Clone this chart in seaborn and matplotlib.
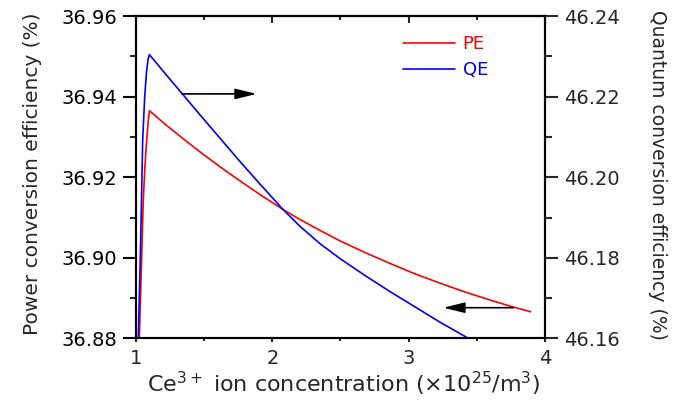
import matplotlib
matplotlib.use("Agg")
import matplotlib.pyplot as plt
from matplotlib.ticker import MultipleLocator, FormatStrFormatter
import seaborn as sns
import pandas as pd

# ---- data ----
pe_x = [1.0235, 1.0389, 1.0535, 1.0660, 1.0785, 1.0902, 1.0990, 1.2127, 1.3227,
        1.4694, 1.6162, 1.7628, 1.9096, 2.0783, 2.2030, 2.3497, 2.4964, 2.6797,
        2.8631, 3.0465, 3.2299, 3.4133, 3.5966, 3.7433, 3.8937]
pe_y = [36.8791, 36.8970, 36.9143, 36.9230, 36.9292, 36.9342, 36.9365, 36.9332,
        36.9302, 36.9263, 36.9226, 36.9191, 36.9157, 36.9120, 36.9095, 36.9068,
        36.9042, 36.9013, 36.8986, 36.8960, 36.8937, 36.8915, 36.8895, 36.8880,
        36.8866]

qe_x = [1.0154, 1.0257, 1.0345, 1.0418, 1.0491, 1.0638, 1.0770, 1.0880, 1.0976,
        1.2127, 1.3227, 1.4694, 1.6162, 1.7628, 1.9096, 2.0783, 2.2030, 2.3497,
        2.4964, 2.6797, 2.8631, 3.0465, 3.2299, 3.4375, 3.5966]
qe_y = [46.1583, 46.1720, 46.1844, 46.1968, 46.2093, 46.2200, 46.2261, 46.2291,
        46.2305, 46.2258, 46.2214, 46.2155, 46.2097, 46.2039, 46.1983, 46.1920,
        46.1878, 46.1835, 46.1798, 46.1756, 46.1716, 46.1678, 46.1640, 46.1600,
        46.1569]

series_names = ["PE", "QE"]
series_colors = ["#ff0000", "#0000ff"]
x_ticks = [1, 2, 3, 4]
left_ticks = [36.88, 36.90, 36.92, 36.94, 36.96]
right_ticks = [46.16, 46.18, 46.20, 46.22, 46.24]

xlabel = r"Ce$^{3+}$ ion concentration ($\times$10$^{25}$/m$^{3}$)"
ylabel_left = "Power conversion efficiency (%)"
ylabel_right = "Quantum conversion efficiency (%)"

# arrows: (x_start, x_end, y) in left-axis data units
arrow_right = (1.335, 1.885, 36.9407)
arrow_left = (3.768, 3.254, 36.8876)

pe_df = pd.DataFrame({"x": pe_x, "y": pe_y})
qe_df = pd.DataFrame({"x": qe_x, "y": qe_y})

sns.set_theme(style="ticks")
plt.rcParams["font.family"] = ["DejaVu Sans"]
plt.rcParams["mathtext.fontset"] = "dejavusans"

fig = plt.figure(figsize=(6.74, 4.05), dpi=100)
ax = fig.add_axes([136 / 674, 1 - 338.3 / 405, (545 - 136) / 674, (338.3 - 16.2) / 405])
ax2 = ax.twinx()

sns.lineplot(data=pe_df, x="x", y="y", ax=ax, color=series_colors[0], lw=1.2,
             estimator=None, sort=False, legend=False)
sns.lineplot(data=qe_df, x="x", y="y", ax=ax2, color=series_colors[1], lw=1.2,
             estimator=None, sort=False, legend=False)

ax.set_xlim(x_ticks[0], x_ticks[-1])
ax.set_ylim(left_ticks[0], left_ticks[-1])
ax2.set_ylim(right_ticks[0], right_ticks[-1])
ax.set_xticks(x_ticks)
ax.set_yticks(left_ticks)
ax2.set_yticks(right_ticks)
ax.xaxis.set_minor_locator(MultipleLocator(0.5))
ax.yaxis.set_minor_locator(MultipleLocator(0.01))
ax2.yaxis.set_minor_locator(MultipleLocator(0.01))
ax.yaxis.set_major_formatter(FormatStrFormatter("%.2f"))
ax2.yaxis.set_major_formatter(FormatStrFormatter("%.2f"))

for a in (ax, ax2):
    for s in a.spines.values():
        s.set_visible(True)
        s.set_linewidth(1.5)
        s.set_color("black")

ax.tick_params(axis="y", which="major", direction="out", length=9.4, width=1.5,
               labelsize=14, pad=4.3, colors="black")
ax.tick_params(axis="y", which="minor", direction="out", length=4.5, width=1.5)
ax.tick_params(axis="x", which="major", direction="out", length=3, width=1.5,
               labelsize=14, pad=5)
ax.tick_params(axis="x", which="minor", direction="out", length=2.5, width=1.5)
ax2.tick_params(axis="y", which="major", direction="out", length=9.4, width=1.5,
                labelsize=14, pad=4)
ax2.tick_params(axis="y", which="minor", direction="out", length=5, width=1.5)

sec = ax.secondary_xaxis("top")
sec.set_xticks(x_ticks)
sec.xaxis.set_minor_locator(MultipleLocator(0.5))
sec.tick_params(axis="x", which="major", direction="in", length=5, width=1.5,
                labeltop=False)
sec.tick_params(axis="x", which="minor", direction="in", length=3, width=1.5)
sec.spines["top"].set_linewidth(1.5)

ax.set_xlabel(xlabel, fontsize=16)
ax.xaxis.set_label_coords(0.5086, -0.098)
ax.set_ylabel(ylabel_left, fontsize=14.5, rotation=90, va="bottom")
ax.yaxis.set_label_coords(-0.2298, 0.512)
ax2.set_ylabel(ylabel_right, fontsize=13.5, rotation=270, va="bottom")
ax2.yaxis.set_label_coords(1.252, 0.507)

for (xs, xe, yy) in (arrow_right, arrow_left):
    ax.annotate("", xy=(xe, yy), xytext=(xs, yy),
                arrowprops=dict(arrowstyle="-|>,head_length=1.3,head_width=0.32",
                                color="black", lw=1.2, shrinkA=0, shrinkB=0,
                                mutation_scale=10))

handles = [ax.lines[0], ax2.lines[0]]
fig.legend(handles, series_names, loc="upper left",
           bbox_to_anchor=(403 / 674, 1 - 35 / 405), frameon=False,
           fontsize=13, handlelength=2.9, handletextpad=0.4, labelspacing=0.45,
           borderpad=0, borderaxespad=0, labelcolor="linecolor")

fig.savefig("out.png", dpi=100)
